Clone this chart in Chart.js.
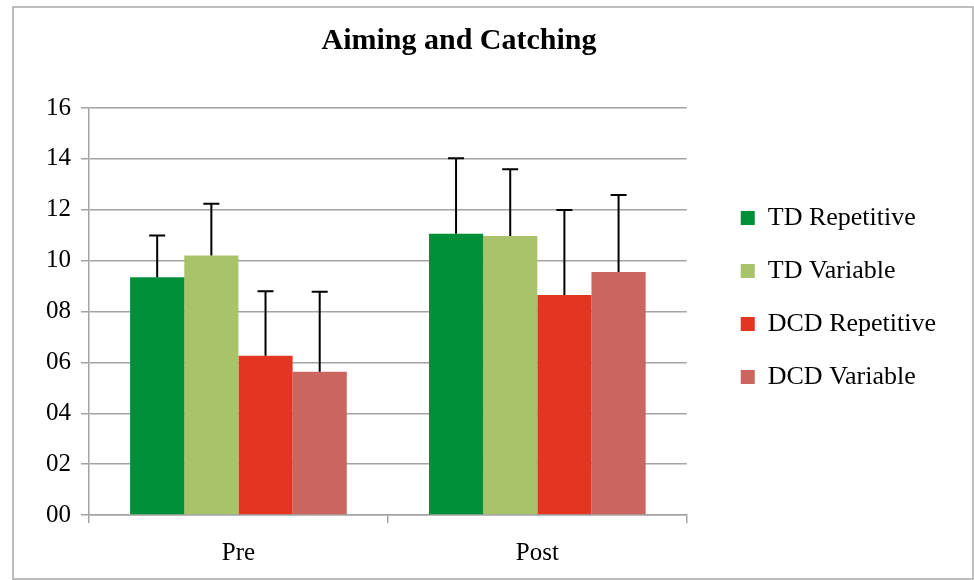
<!DOCTYPE html>
<html>
<head>
<meta charset="utf-8">
<script src="https://cdn.jsdelivr.net/npm/chart.js@4/dist/chart.umd.min.js"></script>
<style>
  html, body { margin: 0; padding: 0; background: #ffffff; }
  #wrap { position: relative; width: 974px; height: 580px; }
</style>
</head>
<body>
<div id="wrap"><canvas id="c" width="974" height="580"></canvas></div>
<script>
const chartTitle = 'Aiming and Catching';
const categories = ['Pre', 'Post'];
const seriesNames = ['TD Repetitive', 'TD Variable', 'DCD Repetitive', 'DCD Variable'];
const tdRepetitive = [9.35, 11.06];
const tdVariable = [10.2, 10.97];
const dcdRepetitive = [6.26, 8.65];
const dcdVariable = [5.63, 9.55];
const tdRepetitiveErr = [1.64, 2.96];
const tdVariableErr = [2.04, 2.62];
const dcdRepetitiveErr = [2.54, 3.34];
const dcdVariableErr = [3.15, 3.03];
const yTickLabels = ['00', '02', '04', '06', '08', '10', '12', '14', '16'];
const seriesColors = ['#008f39', '#a9c36b', '#e33522', '#cb655f'];

const seriesValues = [tdRepetitive, tdVariable, dcdRepetitive, dcdVariable];
const seriesErrors = [tdRepetitiveErr, tdVariableErr, dcdRepetitiveErr, dcdVariableErr];

const FONT = "'Liberation Serif', 'Times New Roman', serif";
const GRID = '#a3a3a3';

const errorBars = {
  id: 'errorBars',
  afterDatasetsDraw(chart) {
    const ctx = chart.ctx;
    const y = chart.scales.y;
    ctx.save();
    ctx.strokeStyle = '#000000';
    ctx.lineWidth = 2;
    chart.data.datasets.forEach((ds, i) => {
      const meta = chart.getDatasetMeta(i);
      meta.data.forEach((bar, j) => {
        const top = y.getPixelForValue(ds.data[j] + ds.errPlus[j]);
        ctx.beginPath();
        ctx.moveTo(bar.x, bar.y);
        ctx.lineTo(bar.x, top);
        ctx.moveTo(bar.x - 8, top);
        ctx.lineTo(bar.x + 8, top);
        ctx.stroke();
      });
    });
    ctx.restore();
  }
};

const frame = {
  id: 'frame',
  beforeDraw(chart) {
    const ctx = chart.ctx;
    ctx.save();
    ctx.strokeStyle = '#a8a8a8';
    ctx.lineWidth = 1.5;
    ctx.strokeRect(13, 7, chart.width - 14, chart.height - 8);
    ctx.restore();
  }
};

const titleShift = {
  id: 'titleShift',
  afterLayout(chart) {
    const t = chart.titleBlock;
    if (t) { t.left -= 32; t.right -= 32; }
  }
};

new Chart(document.getElementById('c'), {
  type: 'bar',
  data: {
    labels: categories,
    datasets: seriesNames.map((name, i) => ({
      label: name,
      data: seriesValues[i],
      errPlus: seriesErrors[i],
      backgroundColor: seriesColors[i],
      borderWidth: 0,
      barPercentage: 1.0,
      categoryPercentage: 0.725
    }))
  },
  options: {
    responsive: false,
    animation: false,
    devicePixelRatio: 1,
    layout: { padding: { top: 15, bottom: 0, left: 36, right: 28 } },
    plugins: {
      title: {
        display: true,
        text: chartTitle,
        color: '#000000',
        font: { family: FONT, size: 30, weight: 'bold' },
        padding: { top: 8, bottom: 49 }
      },
      legend: {
        display: true,
        position: 'right',
        maxWidth: 300,
        labels: {
          boxWidth: 14,
          boxHeight: 14,
          padding: 27,
          color: '#000000',
          font: { family: FONT, size: 26 }
        }
      },
      tooltip: { enabled: false }
    },
    scales: {
      x: {
        grid: { display: true, drawOnChartArea: false, drawTicks: true, tickLength: 8, color: GRID, lineWidth: 1.5, offset: true },
        border: { display: true, color: GRID, width: 1.5 },
        ticks: { color: '#000000', padding: 15, font: { family: FONT, size: 25 } },
        afterFit(scale) { scale.height = 65; }
      },
      y: {
        min: 0,
        max: 16,
        grid: { color: GRID, lineWidth: 1.5, tickLength: 8, drawTicks: true },
        border: { display: true, color: GRID, width: 1.5 },
        ticks: {
          stepSize: 2,
          color: '#000000',
          padding: 10,
          font: { family: FONT, size: 25 },
          callback: (v) => yTickLabels[Math.round(v / 2)]
        }
      },
      yRightGap: {
        position: 'right',
        display: true,
        grid: { display: false, drawTicks: false },
        border: { display: false },
        ticks: { display: false },
        afterFit(scale) { scale.width = 27; }
      }
    }
  },
  plugins: [frame, errorBars, titleShift]
});
</script>
</body>
</html>
